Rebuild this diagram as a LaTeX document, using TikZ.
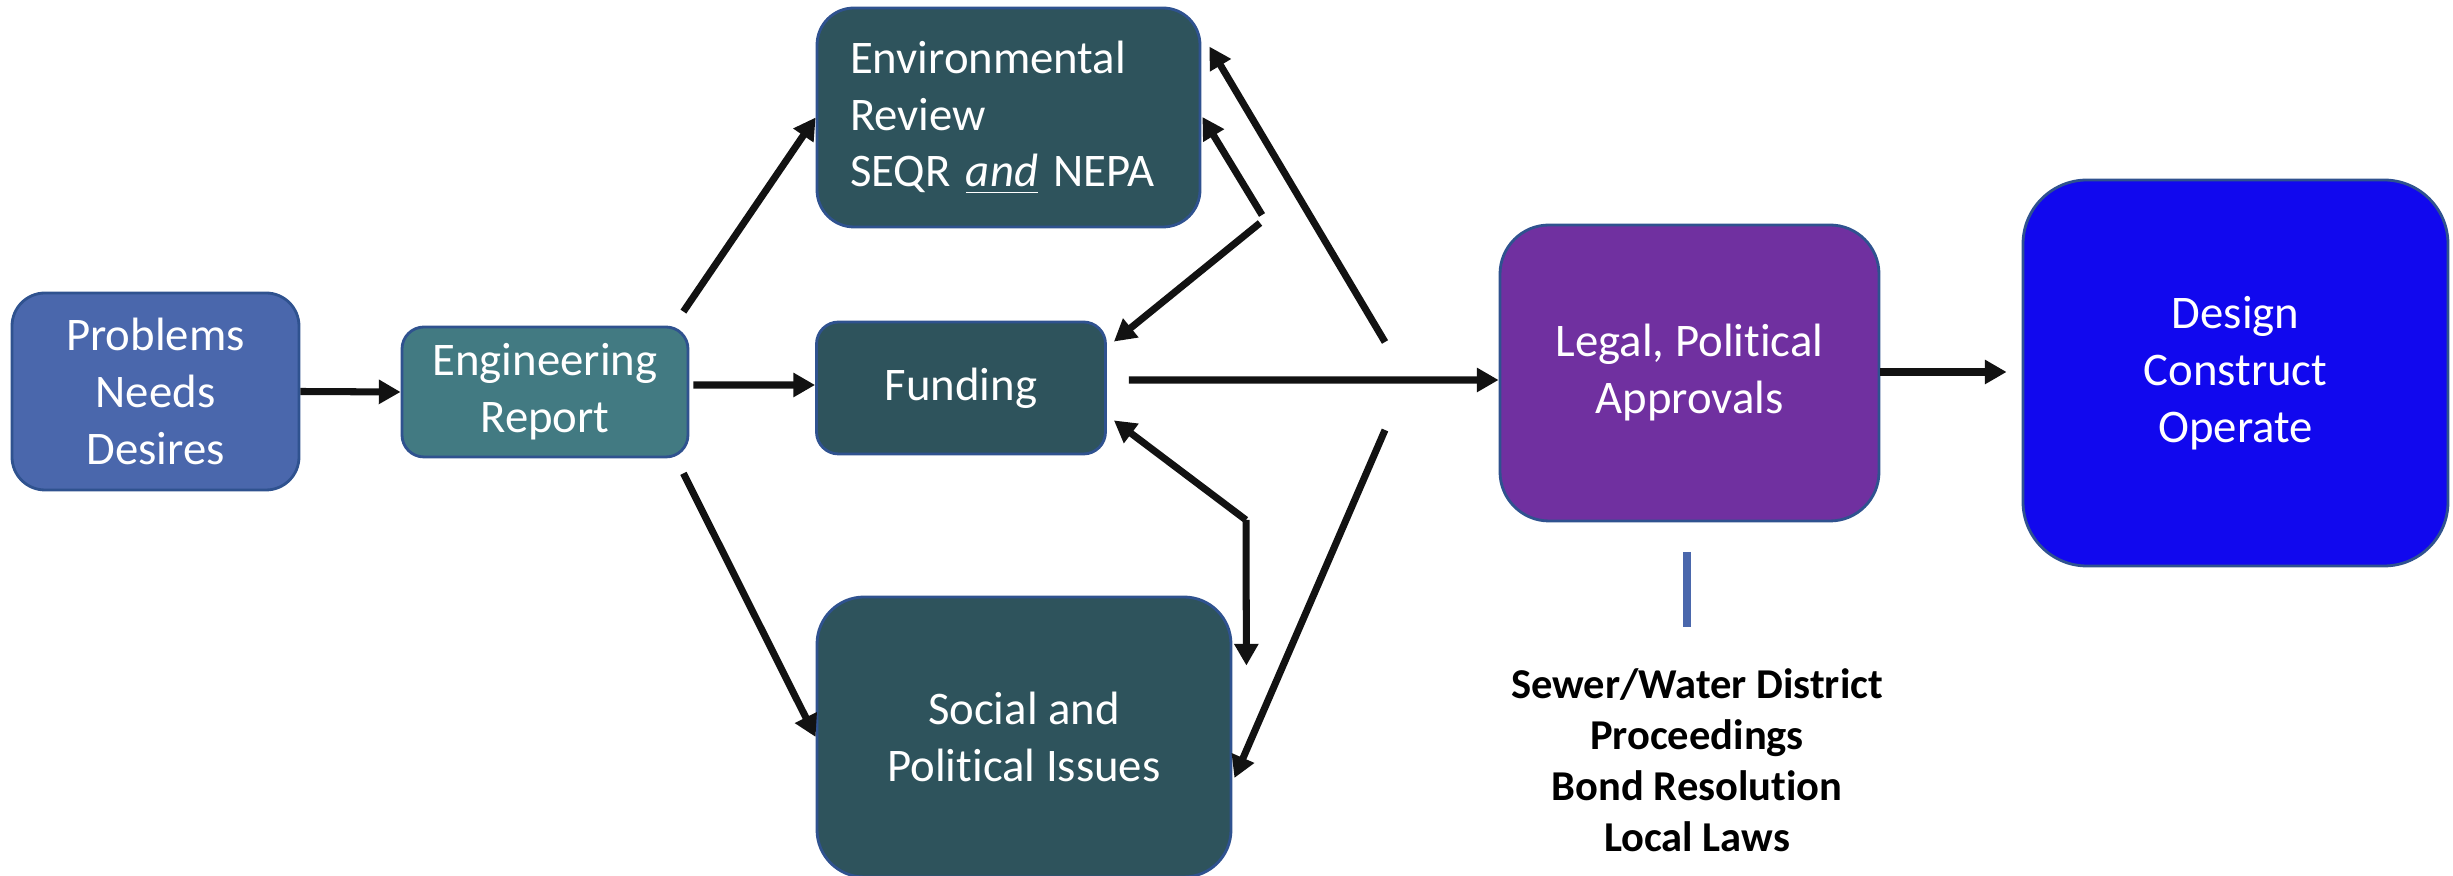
\documentclass[tikz,border=0pt]{standalone}
\usepackage{fontspec}
\setmainfont{Carlito}[Ligatures=NoCommon]
\usetikzlibrary{arrows.meta,positioning,calc}
\definecolor{probcolor}{RGB}{74,103,172}
\definecolor{engcolor}{RGB}{66,122,130}
\definecolor{reviewcolor}{RGB}{46,83,92}
\definecolor{legalcolor}{RGB}{112,48,160}
\definecolor{designcolor}{RGB}{17,8,238}
\definecolor{edgecolor}{RGB}{47,82,143}

\begin{document}
\begin{tikzpicture}[
    box/.style={draw=edgecolor,line width=0.8pt,text=white,align=center,inner sep=2pt,
        font=\fontsize{13.3pt}{16.2pt}\selectfont},
    arr/.style={-{Triangle[length=6.2pt,width=6.6pt]},line width=2pt,black!93},
    link/.style={line width=2pt,black!93}
]
    \useasboundingbox (0,0) rectangle (24.53,-8.76);

    % Main boxes
    \node[box,fill=probcolor,minimum width=2.87cm,minimum height=1.97cm,rounded corners=0.33cm] (prob) at (1.555,-3.915) {Problems\\Needs\\Desires};
    \node[box,fill=engcolor,minimum width=2.86cm,minimum height=1.30cm,rounded corners=0.22cm] (eng) at (5.45,-3.92) {Engineering\\Report};
    \node[box,fill=reviewcolor,minimum width=3.83cm,minimum height=2.19cm,rounded corners=0.37cm,
        align=left,inner xsep=0.33cm,text width=3.17cm] (env) at (10.085,-1.175) {Environmental\\Review\\SEQR \underline{\textit{and}} NEPA};
    \node[box,fill=reviewcolor,minimum width=2.89cm,minimum height=1.32cm,rounded corners=0.22cm] (fund) at (9.61,-3.88) {Funding};
    \node[box,fill=reviewcolor,minimum width=4.14cm,minimum height=2.80cm,rounded corners=0.47cm] (soc) at (10.24,-7.37) {Social and\\Political Issues};
    \node[box,fill=legalcolor,minimum width=3.79cm,minimum height=2.96cm,rounded corners=0.49cm] (legal) at (16.895,-3.73) {Legal, Political\\Approvals};
    \node[box,fill=designcolor,minimum width=4.25cm,minimum height=3.86cm,rounded corners=0.64cm] (design) at (22.355,-3.73) {Design\\Construct\\Operate};

    % Notes under the approvals
    \draw[probcolor,line width=2.3pt] (16.87,-5.52) -- (16.87,-6.27);
    \node[font=\fontsize{12.1pt}{14.5pt}\selectfont\bfseries,align=center] (notes) at (16.97,-7.60)
        {Sewer/Water District\\Proceedings\\Bond Resolution\\Local Laws};

    % Forward flow
    \draw[arr] (prob.east) -- (eng.west);
    \draw[arr] ($(eng.north east)+(-0.06,0.14)$) -- (env.west);
    \draw[arr] ($(eng.east)+(0.04,0.07)$) -- ($(fund.west)+(0,0.03)$);
    \draw[arr] ($(eng.south east)+(-0.06,-0.15)$) -- (soc.west);
    \draw[arr] ($(fund.east)+(0.22,0.08)$) -- ($(legal.west)+(0,-0.07)$);
    \draw[arr] ($(legal.east)+(0,0.01)$) -- ($(design.west)+(-0.15,0.01)$);

    % Feedback branches
    \coordinate (upA) at (13.85,-3.42);
    \coordinate (upB) at (12.62,-2.15);
    \coordinate (upC) at (12.60,-2.23);
    \coordinate (lowA) at (12.46,-5.20);
    \coordinate (lowB) at (13.85,-4.30);
    \draw[arr] (upA) -- ($(env.north east)+(0.08,-0.40)$);
    \draw[arr] (upB) -- ($(env.east)+(0.01,0.005)$);
    \draw[arr] (upC) -- ($(fund.north east)+(0.07,-0.21)$);
    \draw[arr] (lowA) -- ($(fund.south east)+(0.07,0.35)$);
    \draw[arr] (lowA) -- ($(soc.north east)+(0.14,-0.70)$);
    \draw[arr] (lowB) -- ($(soc.east)+(0.02,-0.41)$);
\end{tikzpicture}
\end{document}
